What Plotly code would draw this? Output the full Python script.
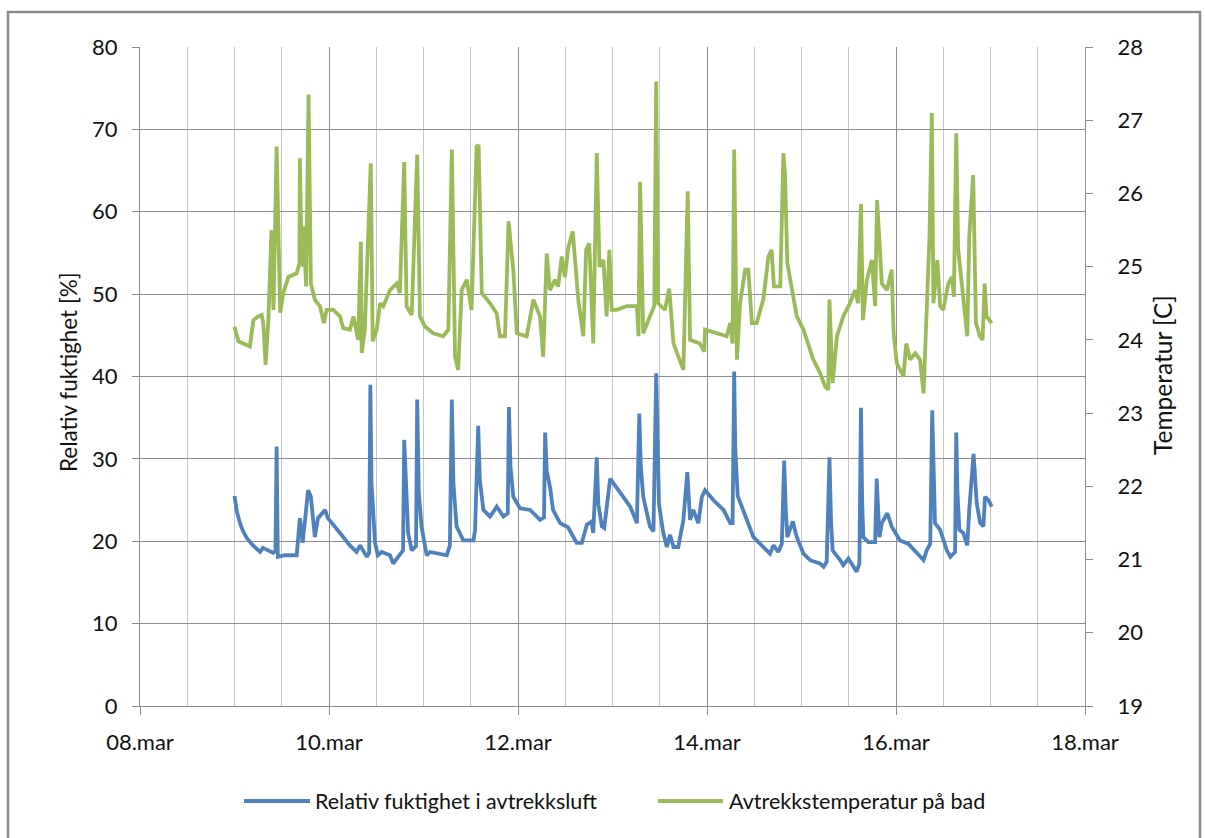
import pandas as pd
import plotly.graph_objects as go

# ---------------- data ----------------
start_time = "2014-03-09 00:00"

# Relativ fuktighet i avtrekksluft [%]  (hours after 09.mar 00:00)
rh_hours = [0.0, 0.6, 1.4, 2.2, 3.1, 4.7, 6.5, 7.2, 9.8, 10.4, 10.7, 11.0, 12.8, 15.8, 16.6, 17.3, 18.7, 19.4,
            20.4, 21.2, 23.0, 23.7, 26.8, 29.3, 31.0, 31.9, 33.6, 34.2, 34.5, 34.8, 35.7, 36.4, 37.4, 39.5,
            40.3, 42.0, 42.8, 43.1, 44.1, 45.0, 46.1, 46.4, 46.8, 47.5, 48.8, 49.7, 53.9, 54.7, 55.2, 55.6,
            56.4, 58.1, 60.7, 61.1, 61.9, 62.3, 63.2, 64.9, 66.6, 68.3, 69.4, 69.7, 70.1, 70.8, 72.5, 75.1,
            77.6, 78.6, 78.9, 79.3, 80.2, 80.9, 82.7, 84.7, 86.9, 88.2, 89.5, 90.7, 91.1, 92.0, 92.4, 93.3,
            93.9, 95.4, 97.1, 100.5, 102.2, 102.8, 103.2, 103.8, 105.5, 106.4, 107.1, 107.4, 107.8, 108.9,
            109.8, 110.6, 111.5, 112.7, 114.0, 115.0, 115.7, 116.5, 117.8, 118.7, 119.5, 121.6, 124.2,
            125.9, 126.5, 126.9, 127.2, 127.8, 129.2, 131.8, 134.3, 136.0, 136.9, 138.1, 139.0, 139.6,
            140.0, 140.4, 141.8, 142.8, 144.5, 146.2, 148.7, 149.6, 150.4, 151.1, 151.5, 151.9, 153.8,
            154.6, 155.9, 157.2, 158.0, 158.7, 159.1, 159.4, 159.7, 161.0, 162.7, 163.1, 163.8, 164.4,
            165.8, 166.9, 169.0, 171.1, 173.3, 175.0, 175.8, 176.7, 177.2, 177.5, 177.9, 179.2, 180.9,
            181.8, 183.0, 183.3, 183.6, 184.1, 185.1, 186.1, 186.6, 187.7, 188.1, 188.5, 189.4, 190.2,
            190.6, 191.5, 192.3]
rh_values = [25.5, 23.6, 22.2, 21.2, 20.4, 19.5, 18.7, 19.2, 18.6, 18.8, 31.5, 18.1, 18.3, 18.3, 22.8, 19.8, 26.2, 25.4,
             20.5, 22.8, 23.8, 22.8, 21.0, 19.5, 18.7, 19.5, 18.1, 18.6, 39.0, 27.0, 19.8, 18.3, 18.7, 18.3,
             17.3, 18.3, 18.9, 32.3, 21.0, 18.9, 19.4, 37.2, 26.0, 21.8, 18.3, 18.7, 18.3, 19.5, 37.2, 27.0,
             21.8, 20.1, 20.1, 21.4, 34.0, 27.5, 23.8, 23.0, 24.2, 23.0, 23.4, 36.3, 29.0, 25.4, 24.0, 23.8,
             22.6, 22.9, 33.2, 28.5, 26.4, 23.8, 22.2, 21.7, 19.8, 19.8, 22.0, 22.4, 21.0, 30.2, 24.5, 21.8,
             21.6, 27.6, 26.4, 24.2, 22.2, 35.5, 29.0, 25.4, 21.8, 21.2, 40.4, 30.5, 24.5, 21.0,
             19.3, 20.8, 19.3, 19.3, 22.6, 28.4, 22.6, 23.8, 22.2, 25.4, 26.2, 25.0, 23.8,
             22.2, 22.2, 40.6, 31.0, 25.5, 23.8, 20.5, 19.3, 18.5, 19.5, 18.7, 19.7, 29.8,
             24.0, 20.5, 22.4, 20.5, 18.5, 17.7, 17.3, 16.9, 17.5, 30.2, 22.5, 18.9, 17.7,
             17.1, 17.9, 16.9, 16.3, 17.3, 36.2, 25.0, 20.5, 19.9, 19.9, 27.6, 20.5, 22.2,
             23.4, 21.8, 20.1, 19.7, 18.5, 17.7, 18.9, 19.7, 35.9, 27.0, 22.2, 21.4, 18.9,
             18.1, 18.7, 33.2, 26.0, 21.4, 21.0, 19.5, 23.8, 30.6, 27.0, 24.6, 22.2, 21.8,
             25.4, 25.0, 24.2]

# Avtrekkstemperatur på bad [C]  (hours after 09.mar 00:00)
temp_hours = [0.0, 1.0, 3.9, 4.8, 6.0, 6.9, 7.3, 7.9, 8.6, 9.4, 9.9, 10.7, 11.6, 12.4, 13.7, 15.8, 16.5,
              16.6, 17.1, 17.5, 18.2, 18.8, 19.4, 20.4, 21.7, 22.7, 23.4, 25.1, 26.8, 27.6, 29.3, 30.2,
              31.4, 32.1, 32.3, 33.1, 34.6, 35.1, 36.1, 37.0, 37.8, 39.5, 41.2, 42.0, 43.1, 43.7, 45.0,
              46.4, 47.1, 48.4, 50.5, 53.0, 54.3, 55.2, 56.0, 56.8, 57.7, 59.0, 60.2, 61.5, 62.0, 62.8,
              64.9, 66.6, 67.4, 68.7, 69.6, 70.8, 71.7, 74.2, 75.9, 77.6, 78.4, 79.3, 80.1, 81.4, 82.2,
              83.1, 83.9, 84.8, 85.9, 86.5, 87.3, 88.6, 89.3, 90.1, 91.1, 92.0, 92.7, 93.7, 94.5, 95.2,
              95.8, 97.1, 99.6, 102.2, 102.6, 103.0, 103.8, 105.5, 106.6, 107.1, 107.6, 109.3, 110.4,
              111.5, 112.7, 114.0, 115.1, 115.7, 118.2, 119.3, 119.5, 122.5, 125.0, 125.9, 126.5, 126.9,
              127.6, 128.4, 129.7, 130.5, 131.4, 132.6, 134.3, 135.6, 136.4, 137.0, 138.6, 139.4, 139.8,
              140.4, 141.5, 142.8, 144.5, 145.7, 147.0, 148.7, 150.0, 150.8, 151.1, 151.9, 153.0, 154.6,
              156.3, 157.6, 158.4, 159.1, 159.6, 160.6, 161.9, 162.7, 163.2, 164.4, 165.7, 166.9, 167.4,
              168.2, 169.9, 170.6, 171.6, 172.9, 174.1, 175.0, 175.6, 176.5, 177.1, 177.5, 178.5, 179.2,
              180.0, 181.3, 182.2, 182.7, 183.3, 183.8, 184.7, 185.5, 186.1, 186.6, 187.6, 188.3, 189.3,
              190.0, 190.5, 191.0, 192.3]
temp_values = [24.18, 23.98, 23.91, 24.27, 24.32, 24.34, 24.23, 23.66, 24.27, 25.50, 24.41, 26.64, 24.37,
               24.64, 24.86, 24.91, 25.05, 26.48, 25.00, 25.55, 24.73, 27.35, 24.77, 24.55, 24.46, 24.23,
               24.41, 24.41, 24.32, 24.16, 24.14, 24.32, 24.00, 25.34, 23.82, 24.14, 26.41, 23.98, 24.14,
               24.50, 24.46, 24.68, 24.77, 24.64, 26.43, 24.46, 24.34, 26.53, 24.32, 24.18, 24.09, 24.05,
               24.14, 26.60, 23.77, 23.59, 24.68, 24.82, 24.41, 26.64, 26.66, 24.64, 24.50, 24.36, 24.05,
               24.05, 25.62, 24.96, 24.09, 24.05, 24.55, 24.32, 23.77, 25.18, 24.68, 24.82, 24.73, 25.14,
               24.86, 25.27, 25.48, 25.14, 24.55, 24.05, 25.23, 25.32, 23.95, 26.55, 25.00, 25.09, 24.32,
               25.23, 24.41, 24.41, 24.46, 24.46, 24.05, 26.16, 24.09, 24.32, 24.46, 27.53, 24.50, 24.41,
               24.70, 23.95, 23.77, 23.59, 26.03, 24.00, 23.95, 23.84, 24.14, 24.09, 24.05, 24.23, 23.95,
               26.60, 23.73, 24.50, 24.96, 24.96, 24.23, 24.23, 24.55, 25.14, 25.23, 24.73, 24.73, 26.55,
               26.28, 25.05, 24.68, 24.32, 24.14, 23.95, 23.73, 23.55, 23.36, 23.32, 24.55, 23.41, 24.05,
               24.32, 24.50, 24.68, 24.50, 25.86, 24.27, 24.82, 25.09, 24.46, 25.91, 24.77, 24.68, 24.96,
               24.09, 23.68, 23.50, 23.95, 23.73, 23.82, 23.73, 23.27, 24.14, 25.41, 27.10, 24.50, 25.09,
               24.46, 24.41, 24.77, 24.86, 24.59, 26.82, 25.23, 24.77, 24.41, 24.05, 25.41, 26.25, 24.23,
               24.05, 24.00, 24.77, 24.32, 24.23]

series_names = ["Relativ fuktighet i avtrekksluft", "Avtrekkstemperatur på bad"]
y_left_title = "Relativ fuktighet [%]"
y_right_title = "Temperatur [C]"

x_tick_dates = ["2014-03-08", "2014-03-10", "2014-03-12", "2014-03-14", "2014-03-16", "2014-03-18"]
x_tick_labels = ["08.mar", "10.mar", "12.mar", "14.mar", "16.mar", "18.mar"]

# ---------------- styling ----------------
BLUE = "#4F81BD"
GREEN = "#9BBB59"
FONT = "Lato"
TXT = "#111111"
MAJOR_GRID = "#8C8C8C"
MINOR_GRID = "#C6C6C6"

t0 = pd.Timestamp(start_time)
rh_x = [t0 + pd.Timedelta(hours=h) for h in rh_hours]
temp_x = [t0 + pd.Timedelta(hours=h) for h in temp_hours]

fig = go.Figure()
fig.add_trace(go.Scatter(x=rh_x, y=rh_values, mode="lines", name=series_names[0],
                         line=dict(color=BLUE, width=3.8), yaxis="y", showlegend=False))
fig.add_trace(go.Scatter(x=temp_x, y=temp_values, mode="lines", name=series_names[1],
                         line=dict(color=GREEN, width=3.8), yaxis="y2", showlegend=False))

W, H = 1205, 838
L, R, T, B = 140, 1085, 47, 706
pw, ph = R - L, B - T


def px(xp):
    return (xp - L) / pw


def py(yp):
    return (B - yp) / ph


fig.update_layout(
    width=W, height=H,
    margin=dict(l=L, r=W - R, t=T, b=H - B, pad=0),
    paper_bgcolor="white", plot_bgcolor="white",
    font=dict(family=FONT, size=22, color=TXT),
    xaxis=dict(
        type="date",
        range=[x_tick_dates[0], x_tick_dates[-1]],
        tickmode="array", tickvals=x_tick_dates, ticktext=x_tick_labels,
        ticks="outside", ticklen=8, tickwidth=1.3, tickcolor=MAJOR_GRID,
        showgrid=True, gridcolor=MAJOR_GRID, gridwidth=1.3,
        minor=dict(tickmode="linear", tick0=x_tick_dates[0], dtick=12 * 3600 * 1000,
                   showgrid=True, gridcolor=MINOR_GRID, gridwidth=1.3, ticks=""),
        showline=True, linecolor=MAJOR_GRID, linewidth=1.3,
        zeroline=False, ticklabelstandoff=8,
        tickfont=dict(size=22, color=TXT),
    ),
    yaxis=dict(
        range=[0, 80], dtick=10, tick0=0,
        ticks="outside", ticklen=7, tickwidth=1.3, tickcolor=MAJOR_GRID,
        showgrid=True, gridcolor=MAJOR_GRID, gridwidth=1.3,
        showline=True, linecolor=MAJOR_GRID, linewidth=1.3,
        zeroline=False, ticklabelstandoff=10,
        tickfont=dict(size=22, color=TXT),
    ),
    yaxis2=dict(
        range=[19, 28], dtick=1, tick0=19,
        overlaying="y", side="right",
        ticks="outside", ticklen=7, tickwidth=1.3, tickcolor=MAJOR_GRID,
        showgrid=False,
        showline=True, linecolor=MAJOR_GRID, linewidth=1.3,
        zeroline=False, ticklabelstandoff=20,
        tickfont=dict(size=22, color=TXT),
    ),
)

# axis titles
fig.add_annotation(text=y_left_title, xref="paper", yref="paper", x=px(68), y=py(372),
                   textangle=-90, showarrow=False, font=dict(size=22.5, color=TXT),
                   xanchor="center", yanchor="middle")
fig.add_annotation(text=y_right_title, xref="paper", yref="paper", x=px(1162), y=py(375),
                   textangle=-90, showarrow=False, font=dict(size=24.5, color=TXT),
                   xanchor="center", yanchor="middle")

# legend (drawn below plot like the original)
leg_y = py(801)
fig.add_shape(type="line", xref="paper", yref="paper", x0=px(244), x1=px(310), y0=leg_y, y1=leg_y,
              line=dict(color=BLUE, width=4))
fig.add_annotation(text=series_names[0], xref="paper", yref="paper", x=px(313), y=leg_y,
                   xanchor="left", yanchor="middle", showarrow=False, font=dict(size=21.5, color=TXT))
fig.add_shape(type="line", xref="paper", yref="paper", x0=px(658), x1=px(723), y0=leg_y, y1=leg_y,
              line=dict(color=GREEN, width=4))
fig.add_annotation(text=series_names[1], xref="paper", yref="paper", x=px(727), y=leg_y,
                   xanchor="left", yanchor="middle", showarrow=False, font=dict(size=21.5, color=TXT))

# chart frame
fig.add_shape(type="rect", xref="paper", yref="paper", x0=px(8), x1=px(1200), y0=py(852), y1=py(12),
              line=dict(color="#8A8A8A", width=2.5), fillcolor="rgba(0,0,0,0)", layer="below")

fig.write_html("out.html")
